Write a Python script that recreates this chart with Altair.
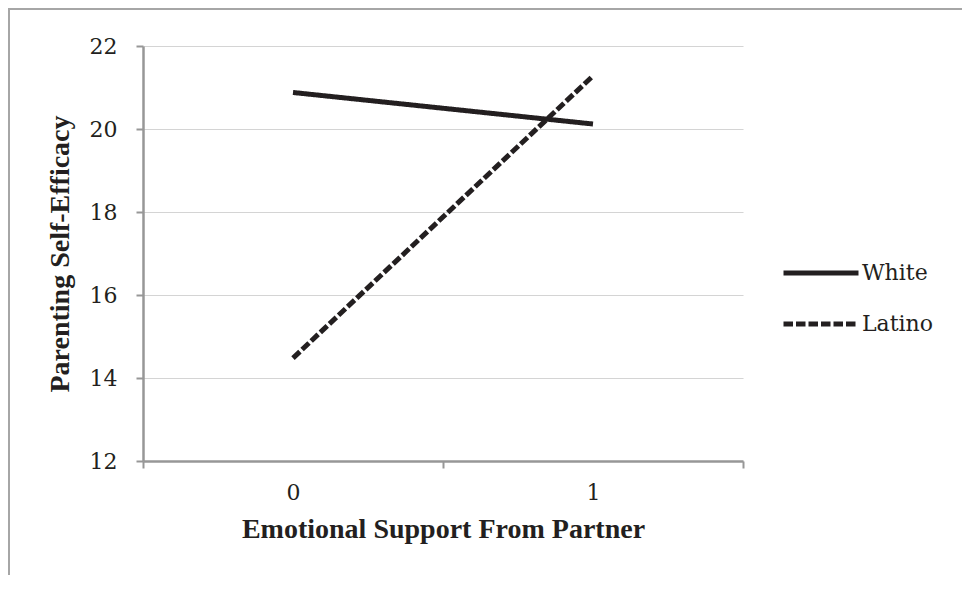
import altair as alt
import pandas as pd

support = ["0", "1"]
white = [20.88, 20.12]
latino = [14.48, 21.28]
groups = ["White", "Latino"]

rows = []
for g, vals in zip(groups, [white, latino]):
    for s, v in zip(support, vals):
        rows.append({"support": s, "efficacy": v, "group": g})
df = pd.DataFrame(rows)

LFONT = "DejaVu Serif"
TFONT = "Liberation Serif"
INK = "#231f20"
LFS = 22
TFS = 28

lines = alt.Chart(df).mark_line(strokeWidth=5, strokeCap="butt", color=INK).encode(
    x=alt.X("support:O",
            scale=alt.Scale(type="band", domain=support, paddingInner=0, paddingOuter=0),
            axis=alt.Axis(title="Emotional Support From Partner", labelAngle=0,
                          tickBand="extent", grid=False, domainColor="#979797",
                          domainWidth=2.5, tickColor="#979797", tickWidth=2, tickSize=7,
                          labelPadding=14, titlePadding=12,
                          labelFont=LFONT, labelFontSize=LFS, labelColor=INK,
                          titleFont=TFONT, titleFontSize=TFS, titleFontWeight="bold",
                          titleColor=INK)),
    y=alt.Y("efficacy:Q",
            scale=alt.Scale(domain=[12, 22], nice=False, zero=False),
            axis=alt.Axis(title="Parenting Self-Efficacy", values=[12, 14, 16, 18, 20, 22],
                          format="d", grid=True, gridColor="#d4d4d4", gridWidth=1.2,
                          domainColor="#979797", domainWidth=2.5,
                          tickColor="#979797", tickWidth=2, tickSize=7,
                          labelPadding=19, titlePadding=15,
                          labelFont=LFONT, labelFontSize=LFS, labelColor=INK,
                          titleFont=TFONT, titleFontSize=TFS, titleFontWeight="bold",
                          titleColor=INK)),
    strokeDash=alt.StrokeDash("group:N",
        scale=alt.Scale(domain=groups, range=[[1, 0], [9.5, 3]]),
        legend=alt.Legend(title=None, orient="none", legendX=638, legendY=187,
                          symbolType="stroke", symbolSize=5625, symbolStrokeWidth=5,
                          symbolStrokeColor=INK, symbolFillColor=INK,
                          labelFont=LFONT, labelFontSize=LFS, labelColor=INK,
                          labelOffset=1, rowPadding=-3)),
    detail="group:N",
)

frame = alt.Chart(pd.DataFrame({"k": [0]})).mark_rect(
    fill=None, stroke="#a6a6a6", strokeWidth=2
).encode(x=alt.value(-134), x2=alt.value(900), y=alt.value(-37), y2=alt.value(700))

chart = alt.layer(frame, lines).properties(
    width=600, height=415,
    autosize=alt.AutoSizeParams(type="none"),
    padding={"left": 135, "top": 38, "right": 219, "bottom": 114},
    background="white",
).configure_view(stroke=None)

chart.save("out.html", embed_options={"renderer": "svg", "actions": False})
